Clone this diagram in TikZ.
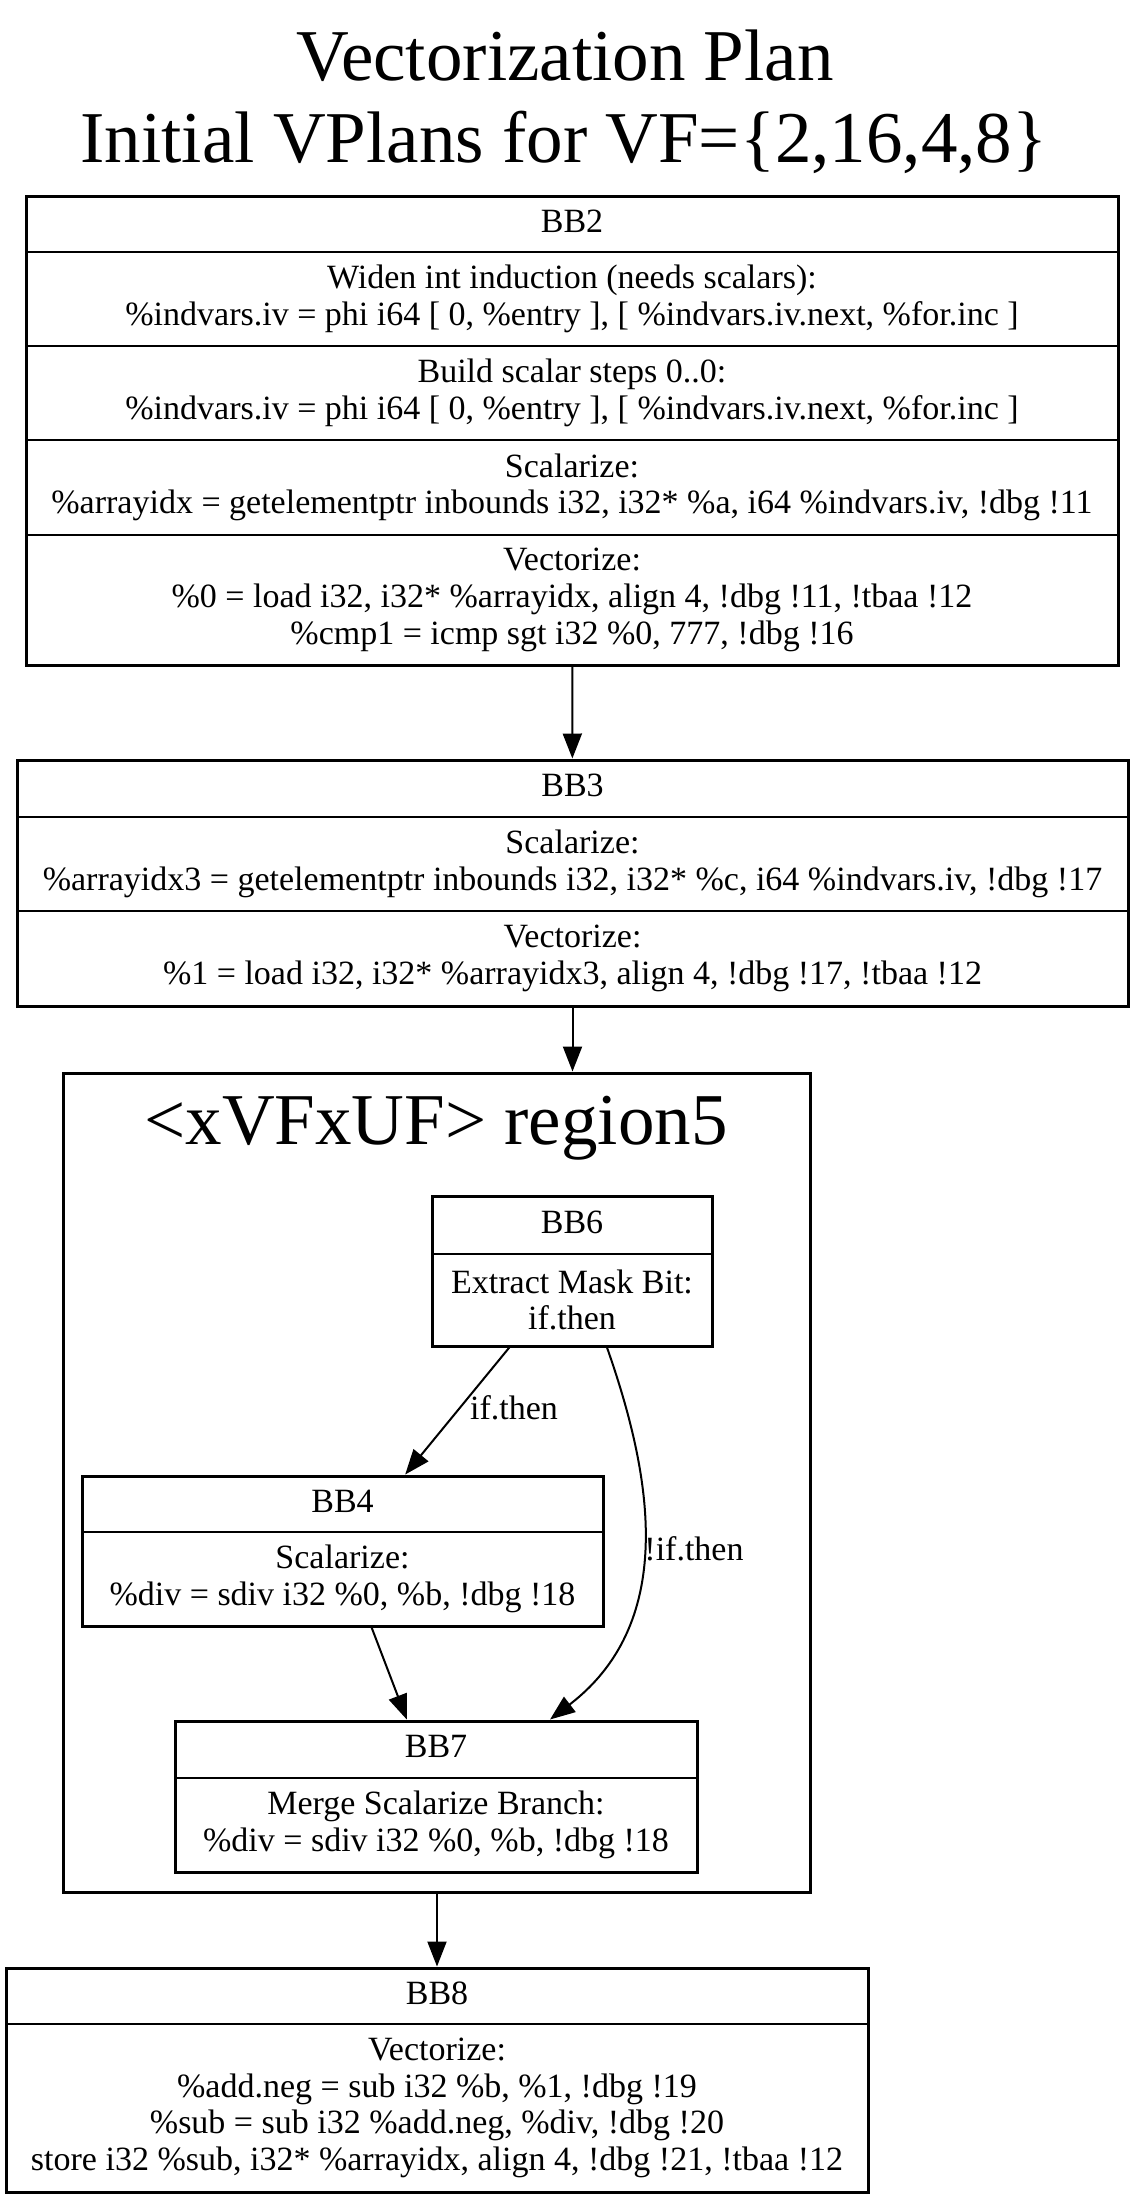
\documentclass[tikz,border=0pt]{standalone}
\usepackage{fontspec}
\setmainfont{Liberation Serif}
\usetikzlibrary{arrows.meta}
\tikzset{
	blk/.style={draw, line width=3pt, inner sep=0pt},
	divider/.style={line width=2.5pt},
	txt/.style={font=\fontsize{34}{36.7}\selectfont, align=center, inner sep=0pt},
	hdr/.style={txt, text height=24pt, text depth=8pt},
	ttl/.style={font=\fontsize{73}{80}\selectfont, inner sep=0pt},
	flow/.style={line width=2pt, -{Triangle[length=25pt,width=19pt]}},
}
\begin{document}
\begin{tikzpicture}[x=1pt,y=-1pt]
	\useasboundingbox (0,0) rectangle (1146,2211);
	% title
	\node[ttl, anchor=base] (title) at (565,80) {Vectorization Plan};
	\node[ttl, anchor=base] (subtitle) at (564,162) {Initial VPlans for VF=\{2,16,4,8\}};
	% BB2
	\node[blk, minimum width=1092pt, minimum height=469pt] (bb2) at (572,430.5) {};
	\draw[divider] (26,252) -- (1118,252);
	\draw[divider] (26,346) -- (1118,346);
	\draw[divider] (26,440) -- (1118,440);
	\draw[divider] (26,535) -- (1118,535);
	\node[hdr] (bb2h) at (572,224) {BB2};
	\node[txt] (bb2a) at (572,299) {Widen int induction (needs scalars):\\\%indvars.iv = phi i64 [ 0, \%entry ], [ \%indvars.iv.next, \%for.inc ]};
	\node[txt] (bb2b) at (572,393) {Build scalar steps 0..0:\\\%indvars.iv = phi i64 [ 0, \%entry ], [ \%indvars.iv.next, \%for.inc ]};
	\node[txt] (bb2c) at (572,487.5) {Scalarize:\\\%arrayidx = getelementptr inbounds i32, i32* \%a, i64 \%indvars.iv, !dbg !11};
	\node[txt] (bb2d) at (572,600) {Vectorize:\\\%0 = load i32, i32* \%arrayidx, align 4, !dbg !11, !tbaa !12\\\%cmp1 = icmp sgt i32 \%0, 777, !dbg !16};
	% BB3
	\node[blk, minimum width=1111pt, minimum height=246pt] (bb3) at (572.5,883) {};
	\draw[divider] (17,817) -- (1128,817);
	\draw[divider] (17,911) -- (1128,911);
	\node[hdr] (bb3h) at (572.5,788.5) {BB3};
	\node[txt] (bb3a) at (572.5,864) {Scalarize:\\\%arrayidx3 = getelementptr inbounds i32, i32* \%c, i64 \%indvars.iv, !dbg !17};
	\node[txt] (bb3b) at (572.5,958.5) {Vectorize:\\\%1 = load i32, i32* \%arrayidx3, align 4, !dbg !17, !tbaa !12};
	% region5
	\node[blk, minimum width=747pt, minimum height=819pt] (region5) at (436.5,1482.5) {};
	\node[ttl, anchor=base] (region5l) at (436,1144) {<xVFxUF> region5};
	% BB6
	\node[blk, minimum width=280pt, minimum height=150pt] (bb6) at (572,1271) {};
	\draw[divider] (432,1254) -- (712,1254);
	\node[hdr] (bb6h) at (572,1225) {BB6};
	\node[txt] (bb6a) at (572,1300) {Extract Mask Bit:\\if.then};
	% BB4
	\node[blk, minimum width=521pt, minimum height=150pt] (bb4) at (342.5,1551) {};
	\draw[divider] (82,1532) -- (603,1532);
	\node[hdr] (bb4h) at (342.5,1504) {BB4};
	\node[txt] (bb4a) at (342.5,1579) {Scalarize:\\\%div = sdiv i32 \%0, \%b, !dbg !18};
	% BB7
	\node[blk, minimum width=522pt, minimum height=151pt] (bb7) at (436,1796.5) {};
	\draw[divider] (175,1778) -- (697,1778);
	\node[hdr] (bb7h) at (436,1749.5) {BB7};
	\node[txt] (bb7a) at (436,1825) {Merge Scalarize Branch:\\\%div = sdiv i32 \%0, \%b, !dbg !18};
	% BB8
	\node[blk, minimum width=862pt, minimum height=224pt] (bb8) at (437,2080) {};
	\draw[divider] (6,2024) -- (868,2024);
	\node[hdr] (bb8h) at (437,1996) {BB8};
	\node[txt] (bb8a) at (437,2108) {Vectorize:\\\%add.neg = sub i32 \%b, \%1, !dbg !19\\\%sub = sub i32 \%add.neg, \%div, !dbg !20\\store i32 \%sub, i32* \%arrayidx, align 4, !dbg !21, !tbaa !12};
	% edges
	\draw[flow] (bb2) -- (bb3);
	\draw[flow] (bb3.south) -- (bb3.south |- region5.north);
	\draw[flow] (bb6) -- (bb4);
	\node[hdr] (lthen) at (514,1411) {if.then};
	\draw[flow] ([xshift=35pt]bb6.south) .. controls (650,1470) and (680,1620) .. ([xshift=114pt]bb7.north);
	\node[hdr] (lelse) at (694,1552) {!if.then};
	\draw[flow] (bb4) -- (bb7);
	\draw[flow] (region5.south -| bb8.north) -- (bb8.north);
\end{tikzpicture}
\end{document}
